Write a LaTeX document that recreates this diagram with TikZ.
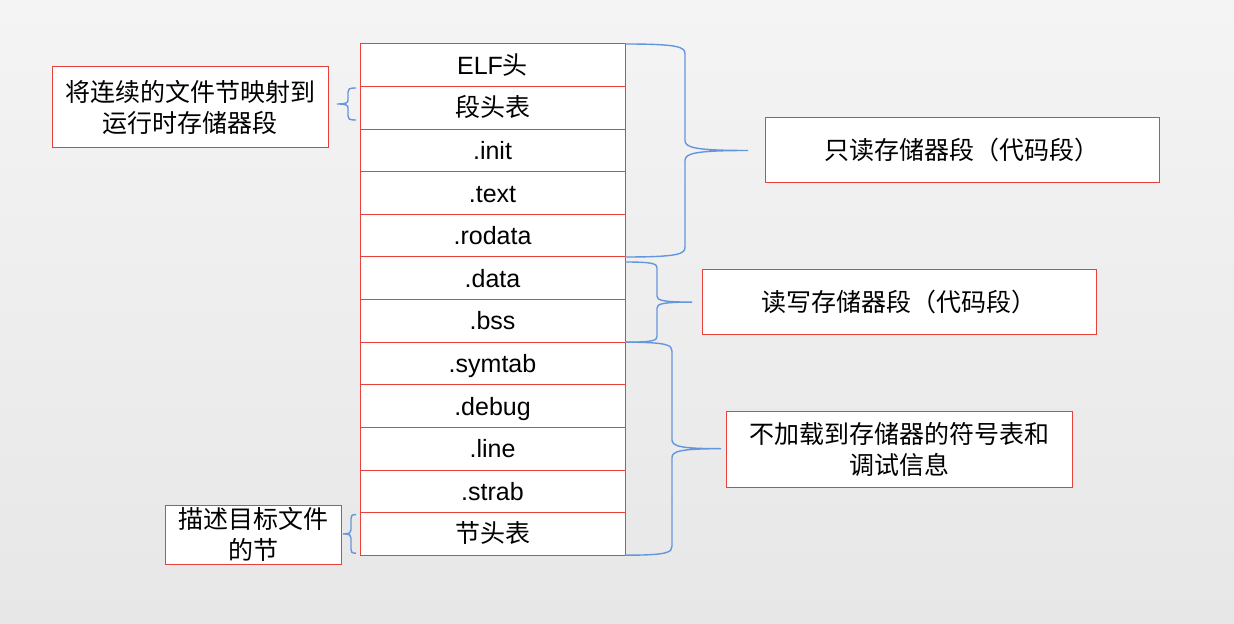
\documentclass[tikz,border=0pt]{standalone}
\usepackage{fontspec}
\setmainfont{Liberation Sans}
\newfontfamily\cjk{Noto Sans CJK SC}
\usetikzlibrary{positioning,calc}
\definecolor{boxred}{RGB}{232,64,60}
\definecolor{braceblue}{RGB}{100,150,222}
\definecolor{bgtop}{RGB}{244,244,244}
\definecolor{bgbottom}{RGB}{232,231,231}
% #1 oberes Ende, #2 unteres Ende, #3 Abstand der Senkrechten, #4 Abstand der Spitze, #5 Bogen
\newcommand{\pptbrace}[5]{%
    \draw[curlyline] (#1) .. controls +({0.9*(#3)},0) and +(0,{-0.7*#5}) .. ++(#3,#5)
        -- ($(#1)!0.5!(#2)+(#3,-#5)$)
        .. controls +(0,{0.7*#5}) and +({-0.85*(#4-#3)},0) .. ($(#1)!0.5!(#2)+(#4,0)$)
        .. controls +({-0.85*(#4-#3)},0) and +(0,{-0.7*#5}) .. ($(#1)!0.5!(#2)+(#3,#5)$)
        -- ($(#2)+(#3,-#5)$)
        .. controls +(0,{0.7*#5}) and +({0.9*(#3)},0) .. (#2);}
\begin{document}
\begin{tikzpicture}[
    x=0.5pt, y=-0.5pt,
    every node/.style={font=\fontsize{12.5}{15.5}\selectfont},
    row/.style={draw=boxred, fill=white, line width=0.5pt, minimum width=132.5pt,
        minimum height=21.3pt, inner sep=0pt, outer sep=0pt, text height=9pt, text depth=0pt},
    note/.style={draw=boxred, fill=white, line width=0.5pt, align=center, inner sep=0pt},
    curlyline/.style={draw=braceblue, line width=0.7pt}
]

    % Hintergrund
    \shade[top color=bgtop, bottom color=bgbottom] (0,0) rectangle (1234,624);
    \useasboundingbox (0,0) rectangle (1234,624);

    % Tabelle der Abschnitte
    \node[row] (elf) at (492.5,65.3) {ELF{\cjk 头}};
    \node[row, below=0pt of elf] (phdr) {{\cjk 段头表}};
    \node[row, below=0pt of phdr] (init) {.init};
    \node[row, below=0pt of init] (text) {.text};
    \node[row, below=0pt of text] (rodata) {.rodata};
    \node[row, below=0pt of rodata] (data) {.data};
    \node[row, below=0pt of data] (bss) {.bss};
    \node[row, below=0pt of bss] (symtab) {.symtab};
    \node[row, below=0pt of symtab] (debug) {.debug};
    \node[row, below=0pt of debug] (line) {.line};
    \node[row, below=0pt of line] (strab) {.strab};
    \node[row, below=0pt of strab] (shdr) {{\cjk 节头表}};

    % Beschriftungen
    \node[note, minimum width=197pt, minimum height=32.5pt] (ro) at (962,150.5) {\cjk 只读存储器段（代码段）};
    \node[note, minimum width=197pt, minimum height=32.5pt] (rw) at (899,302.5) {\cjk 读写存储器段（代码段）};
    \node[note, minimum width=173pt, minimum height=38pt] (noload) at (899,449) {\cjk 不加载到存储器的符号表和\\\cjk 调试信息};
    \node[note, minimum width=138pt, minimum height=40.5pt] (map) at (190,107.5) {\cjk 将连续的文件节映射到\\\cjk 运行时存储器段};
    \node[note, minimum width=88pt, minimum height=29.5pt] (desc) at (253,534.5) {\cjk 描述目标文件\\\cjk 的节};

    % Endpunkte der Klammern
    \coordinate (rw top) at ([yshift=-2.5pt]data.north east);
    \coordinate (ph top) at ([xshift=-2pt, yshift=-0.7pt]phdr.north west);
    \coordinate (ph bot) at ([xshift=-2pt, yshift=4.6pt]phdr.south west);
    \coordinate (sh top) at ([xshift=-2pt, yshift=-1pt]shdr.north west);
    \coordinate (sh bot) at ([xshift=-2pt, yshift=1pt]shdr.south west);

    % Klammern
    \pptbrace{elf.north east}{rodata.south east}{60}{123}{10}
    \pptbrace{rw top}{bss.south east}{32}{67}{6}
    \pptbrace{symtab.north east}{shdr.south east}{47}{96}{9}
    \pptbrace{ph top}{ph bot}{-8}{-19}{4}
    \pptbrace{sh top}{sh bot}{-5}{-13}{4}

\end{tikzpicture}
\end{document}
